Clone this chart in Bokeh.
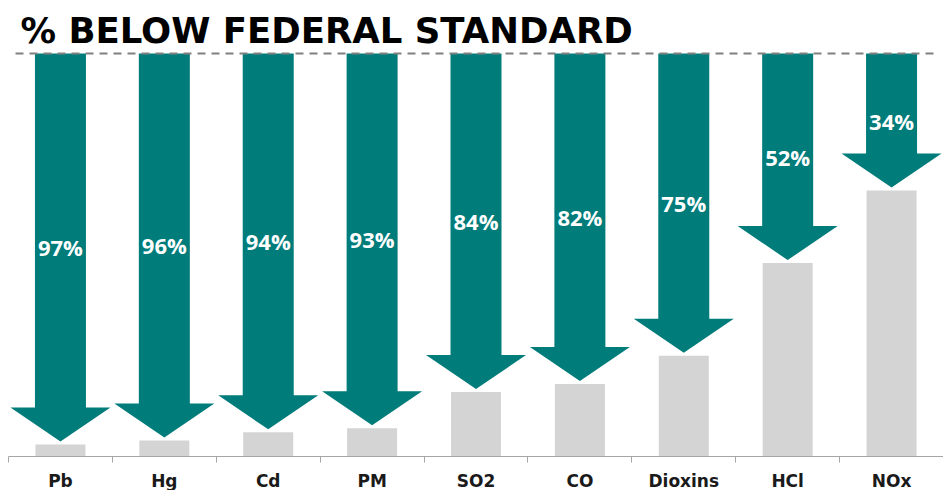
from bokeh.plotting import figure
from bokeh.models import FixedTicker, Range1d
from bokeh.core.properties import value
from bokeh.embed import file_html
from bokeh.resources import INLINE

categories = ["Pb", "Hg", "Cd", "PM", "SO2", "CO", "Dioxins", "HCl", "NOx"]
pct_below = [97, 96, 94, 93, 84, 82, 75, 52, 34]
title_text = "% BELOW FEDERAL STANDARD"

TEAL = "#007C7B"
GREY = "#D4D4D4"

n = len(categories)
left_pad = 8
frame_w = 935
frame_h = 456
top_px = 53
ppu = (frame_h - top_px) / 100.0
ppx = frame_w / n
y_end = frame_h / ppu

p = figure(frame_width=frame_w, frame_height=frame_h, output_backend="svg",
           toolbar_location=None, x_range=Range1d(0, n), y_range=Range1d(0, y_end),
           y_axis_location=None, min_border_left=left_pad, min_border_right=0,
           min_border_top=0, min_border_bottom=0)
p.outline_line_color = None
p.xgrid.visible = False
p.ygrid.visible = False
p.background_fill_color = "white"

centers = [i + 0.5 for i in range(n)]
remaining = [100 - v for v in pct_below]

# grey bars
p.vbar(x=centers, top=remaining, bottom=0, width=50 / ppx, color=GREY, line_color=None)

# arrows
head_h = 34 / ppu
gap = 3 / ppu
shaft_half = 25.5 / ppx
head_half = 50 / ppx
xs, ys, ly = [], [], []
for c, r in zip(centers, remaining):
    tip = r + gap
    ht = tip + head_h
    xs.append([c - shaft_half, c + shaft_half, c + shaft_half, c + head_half, c,
               c - head_half, c - shaft_half])
    ys.append([100, 100, ht, ht, tip, ht, ht])
    ly.append((100 + tip) / 2)
p.patches(xs=xs, ys=ys, fill_color=TEAL, line_color=None)

labels = [f"{v}%" for v in pct_below]
p.text(x=centers, y=ly, text=labels, text_color="white", text_font=value("Open Sans"),
       text_font_style="bold", text_font_size="22px", text_align="center",
       text_baseline="middle")

# dashed reference line at 100%
p.line(x=[7 / ppx, n - 6 / ppx], y=[100, 100], line_color="#808080", line_width=2,
       line_dash="8 6")

# title
p.text(x=[12 / ppx], y=[(frame_h - 30) / ppu], text=[title_text],
       text_color="black", text_font=value("DejaVu Sans"), text_font_style="bold",
       text_font_size="35.5px", text_align="left", text_baseline="alphabetic")

ax = p.xaxis[0]
ax.ticker = FixedTicker(ticks=centers, minor_ticks=list(range(n + 1)))
ax.major_label_overrides = {c: lab for c, lab in zip(centers, categories)}
ax.major_tick_in = 0
ax.major_tick_out = 0
ax.minor_tick_in = 0
ax.minor_tick_out = 6
ax.axis_line_color = "#A6A6A6"
ax.minor_tick_line_color = "#A6A6A6"
ax.major_label_text_font = "DejaVu Sans"
ax.major_label_text_font_style = "bold"
ax.major_label_text_font_size = "17px"
ax.major_label_text_color = "#1A1A1A"
ax.major_label_standoff = 8

open("out.html", "w").write(file_html(p, INLINE))
